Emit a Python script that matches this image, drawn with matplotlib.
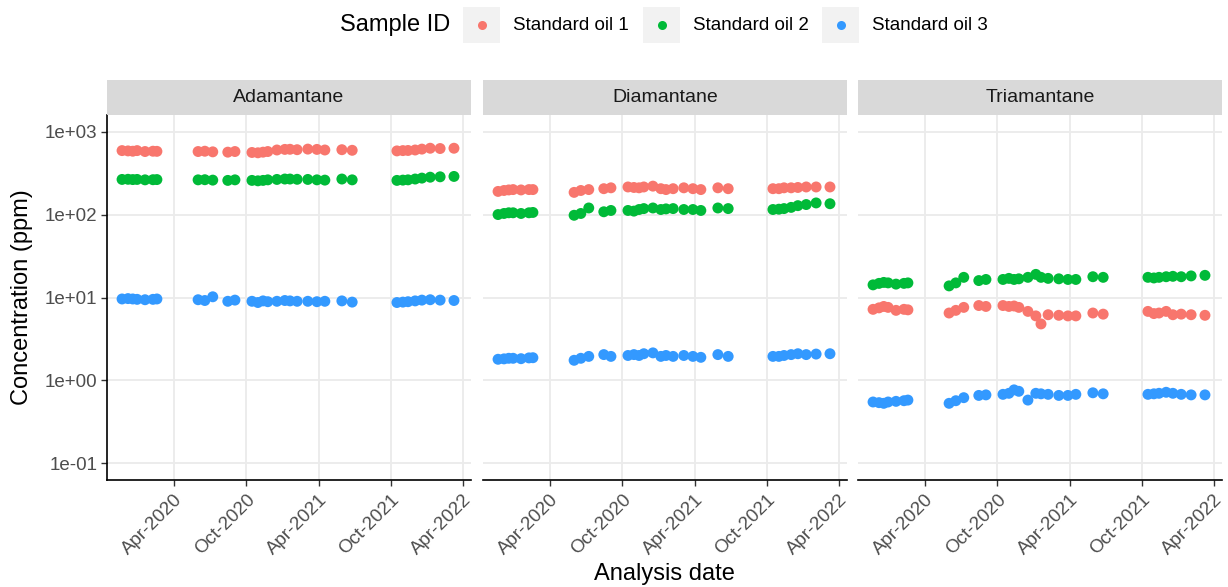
import numpy as np
import pandas as pd
import matplotlib
matplotlib.use("Agg")
import matplotlib.pyplot as plt
import matplotlib.dates as mdates
from matplotlib.patches import Rectangle
from matplotlib.lines import Line2D

plt.rcParams['font.family'] = ['Liberation Sans', 'DejaVu Sans']

# analysis dates shared by all three standards
dates = pd.to_datetime([
    '2019-11-22', '2019-12-07', '2019-12-19', '2019-12-30', '2020-01-19', '2020-02-08', '2020-02-18',
    '2020-06-01', '2020-06-18', '2020-07-08', '2020-08-15', '2020-09-02',
    '2020-10-15', '2020-10-30', '2020-11-12', '2020-11-24', '2020-12-17', '2021-01-06', '2021-01-19',
    '2021-02-06', '2021-03-05', '2021-03-28', '2021-04-17', '2021-05-30', '2021-06-25',
    '2021-10-16', '2021-10-31', '2021-11-13', '2021-12-01', '2021-12-18', '2022-01-08', '2022-02-02',
    '2022-03-09',
])

compounds = ['Adamantane', 'Diamantane', 'Triamantane']
samples = ['Standard oil 1', 'Standard oil 2', 'Standard oil 3']
colors = ['#F8766D', '#00BA38', '#3399FF']

ada_oil1 = [590, 585, 580, 590, 575, 580, 578,
            575, 580, 570, 565, 575,
            560, 555, 565, 575, 600, 610, 612, 605, 615, 610, 600, 605, 595,
            585, 590, 592, 600, 615, 630, 625, 630]
ada_oil2 = [265, 266, 264, 265, 262, 263, 264,
            262, 263, 260, 258, 262,
            258, 255, 258, 262, 265, 268, 268, 266, 265, 262, 260, 268, 262,
            258, 260, 262, 268, 275, 282, 285, 288]
ada_oil3 = [9.6, 9.7, 9.6, 9.5, 9.4, 9.5, 9.6,
            9.4, 9.2, 10.2, 9.0, 9.3,
            9.0, 8.7, 9.1, 8.9, 9.0, 9.2, 9.1, 9.0, 9.0, 8.9, 9.0, 9.1, 8.8,
            8.7, 8.8, 8.9, 9.1, 9.3, 9.4, 9.3, 9.2]

dia_oil1 = [190, 195, 198, 200, 198, 200, 200,
            185, 195, 200, 205, 210,
            215, 212, 210, 215, 220, 205, 200, 205, 210, 205, 200, 210, 205,
            205, 205, 210, 210, 212, 215, 215, 215]
dia_oil2 = [100, 103, 105, 105, 103, 105, 106,
            98, 103, 120, 108, 112,
            112, 110, 115, 118, 120, 115, 117, 118, 115, 115, 112, 120, 118,
            115, 116, 118, 122, 128, 132, 138, 135]
dia_oil3 = [1.80, 1.82, 1.85, 1.85, 1.83, 1.87, 1.88,
            1.75, 1.85, 1.95, 2.05, 1.95,
            2.00, 2.05, 2.00, 2.10, 2.15, 1.95, 2.00, 1.95, 2.00, 1.95, 1.90, 2.05, 1.95,
            1.95, 1.95, 2.00, 2.05, 2.10, 2.05, 2.08, 2.10]

tri_oil1 = [7.2, 7.5, 7.8, 7.6, 7.0, 7.2, 7.1,
            6.5, 7.0, 7.6, 8.0, 7.8,
            8.0, 7.8, 7.9, 7.6, 6.8, 6.0, 4.8, 6.2, 6.1, 6.0, 6.0, 6.5, 6.3,
            6.8, 6.4, 6.5, 6.8, 6.2, 6.3, 6.2, 6.1]
tri_oil2 = [14.2, 14.8, 15.2, 15.0, 14.5, 14.8, 15.0,
            13.8, 15.0, 17.5, 16.0, 16.5,
            16.5, 17.0, 16.5, 16.8, 17.5, 19.0, 17.5, 17.0, 16.8, 16.5, 16.5, 17.8, 17.5,
            17.5, 17.2, 17.5, 17.8, 18.0, 17.8, 18.2, 18.5]
tri_oil3 = [0.55, 0.54, 0.53, 0.55, 0.56, 0.57, 0.58,
            0.53, 0.57, 0.62, 0.66, 0.67,
            0.68, 0.70, 0.77, 0.74, 0.58, 0.70, 0.69, 0.68, 0.66, 0.66, 0.68, 0.71, 0.69,
            0.68, 0.69, 0.70, 0.72, 0.70, 0.68, 0.67, 0.67]

series = {
    'Adamantane': [ada_oil1, ada_oil2, ada_oil3],
    'Diamantane': [dia_oil1, dia_oil2, dia_oil3],
    'Triamantane': [tri_oil1, tri_oil2, tri_oil3],
}

W, H = 1228, 587
fig = plt.figure(figsize=(W / 100, H / 100), dpi=100)

panel_left = [107, 483, 858]
panel_w = 364
panel_top, panel_bot = 115, 480
strip_top = 80

xticks = pd.to_datetime(['2020-04-01', '2020-10-01', '2021-04-01', '2021-10-01', '2022-04-01'])
xlim = (mdates.date2num(pd.Timestamp('2019-10-15')), mdates.date2num(pd.Timestamp('2022-04-21')))

for i, comp in enumerate(compounds):
    x0 = panel_left[i]
    ax = fig.add_axes([x0 / W, 1 - panel_bot / H, panel_w / W, (panel_bot - panel_top) / H])
    ax.set_yscale('log')
    ax.set_ylim(10 ** -1.2, 10 ** 3.2)
    ax.set_xlim(xlim)
    ax.set_axisbelow(True)
    ax.grid(True, color='#EBEBEB', linewidth=1.3)
    ax.minorticks_off()
    for s in ['top', 'right']:
        ax.spines[s].set_visible(False)
    ax.spines['bottom'].set_color('black')
    ax.spines['bottom'].set_linewidth(1.2)
    ax.spines['left'].set_color('black')
    ax.spines['left'].set_linewidth(1.2)
    if i > 0:
        ax.spines['left'].set_visible(False)

    for vals, c in zip(series[comp], colors):
        ax.scatter(dates, vals, s=62, color=c, edgecolors='none', zorder=3)

    ax.set_xticks(mdates.date2num(xticks))
    ax.set_xticklabels([d.strftime('%b-%Y') for d in xticks], rotation=45,
                       ha='right', va='top', rotation_mode='anchor')
    ax.set_yticks([0.1, 1, 10, 100, 1000])
    if i == 0:
        ax.set_yticklabels(['1e-01', '1e+00', '1e+01', '1e+02', '1e+03'])
        ax.tick_params(axis='y', length=4, width=1, color='#333333',
                       labelsize=13.5, labelcolor='#4D4D4D', pad=3)
    else:
        ax.tick_params(axis='y', length=0, labelleft=False)
    ax.tick_params(axis='x', length=4, width=1, color='#333333',
                   labelsize=13.5, labelcolor='#4D4D4D', pad=4)

    # facet strip
    sax = fig.add_axes([x0 / W, 1 - panel_top / H, panel_w / W, (panel_top - strip_top) / H])
    sax.set_facecolor('#D9D9D9')
    sax.set_xticks([])
    sax.set_yticks([])
    for s in sax.spines.values():
        s.set_visible(False)
    sax.text(0.5, 0.5, comp, ha='center', va='center', fontsize=14, color='#1A1A1A',
             transform=sax.transAxes)

fig.text(22 / W, 1 - 297 / H, 'Concentration (ppm)', rotation=90, ha='center', va='center',
         fontsize=17, color='black')
fig.text(664 / W, 1 - 574 / H, 'Analysis date', ha='center', va='center', fontsize=17,
         color='black')

# legend along the top
leg_y = 25
fig.text(340 / W, 1 - leg_y / H, 'Sample ID', ha='left', va='center', fontsize=17, color='black')
key_x = [463, 643, 822]
for kx, lab, c in zip(key_x, samples, colors):
    fig.add_artist(Rectangle((kx / W, 1 - (leg_y + 18) / H), 37 / W, 36 / H,
                             transform=fig.transFigure, facecolor='#F2F2F2', edgecolor='none'))
    fig.add_artist(Line2D([(kx + 18.5) / W], [1 - leg_y / H], marker='o', markersize=6.5,
                          color=c, markeredgewidth=0, linestyle='none',
                          transform=fig.transFigure))
    fig.text((kx + 50) / W, 1 - leg_y / H, lab, ha='left', va='center', fontsize=13.5,
             color='black')

fig.savefig('out.png', dpi=100)
